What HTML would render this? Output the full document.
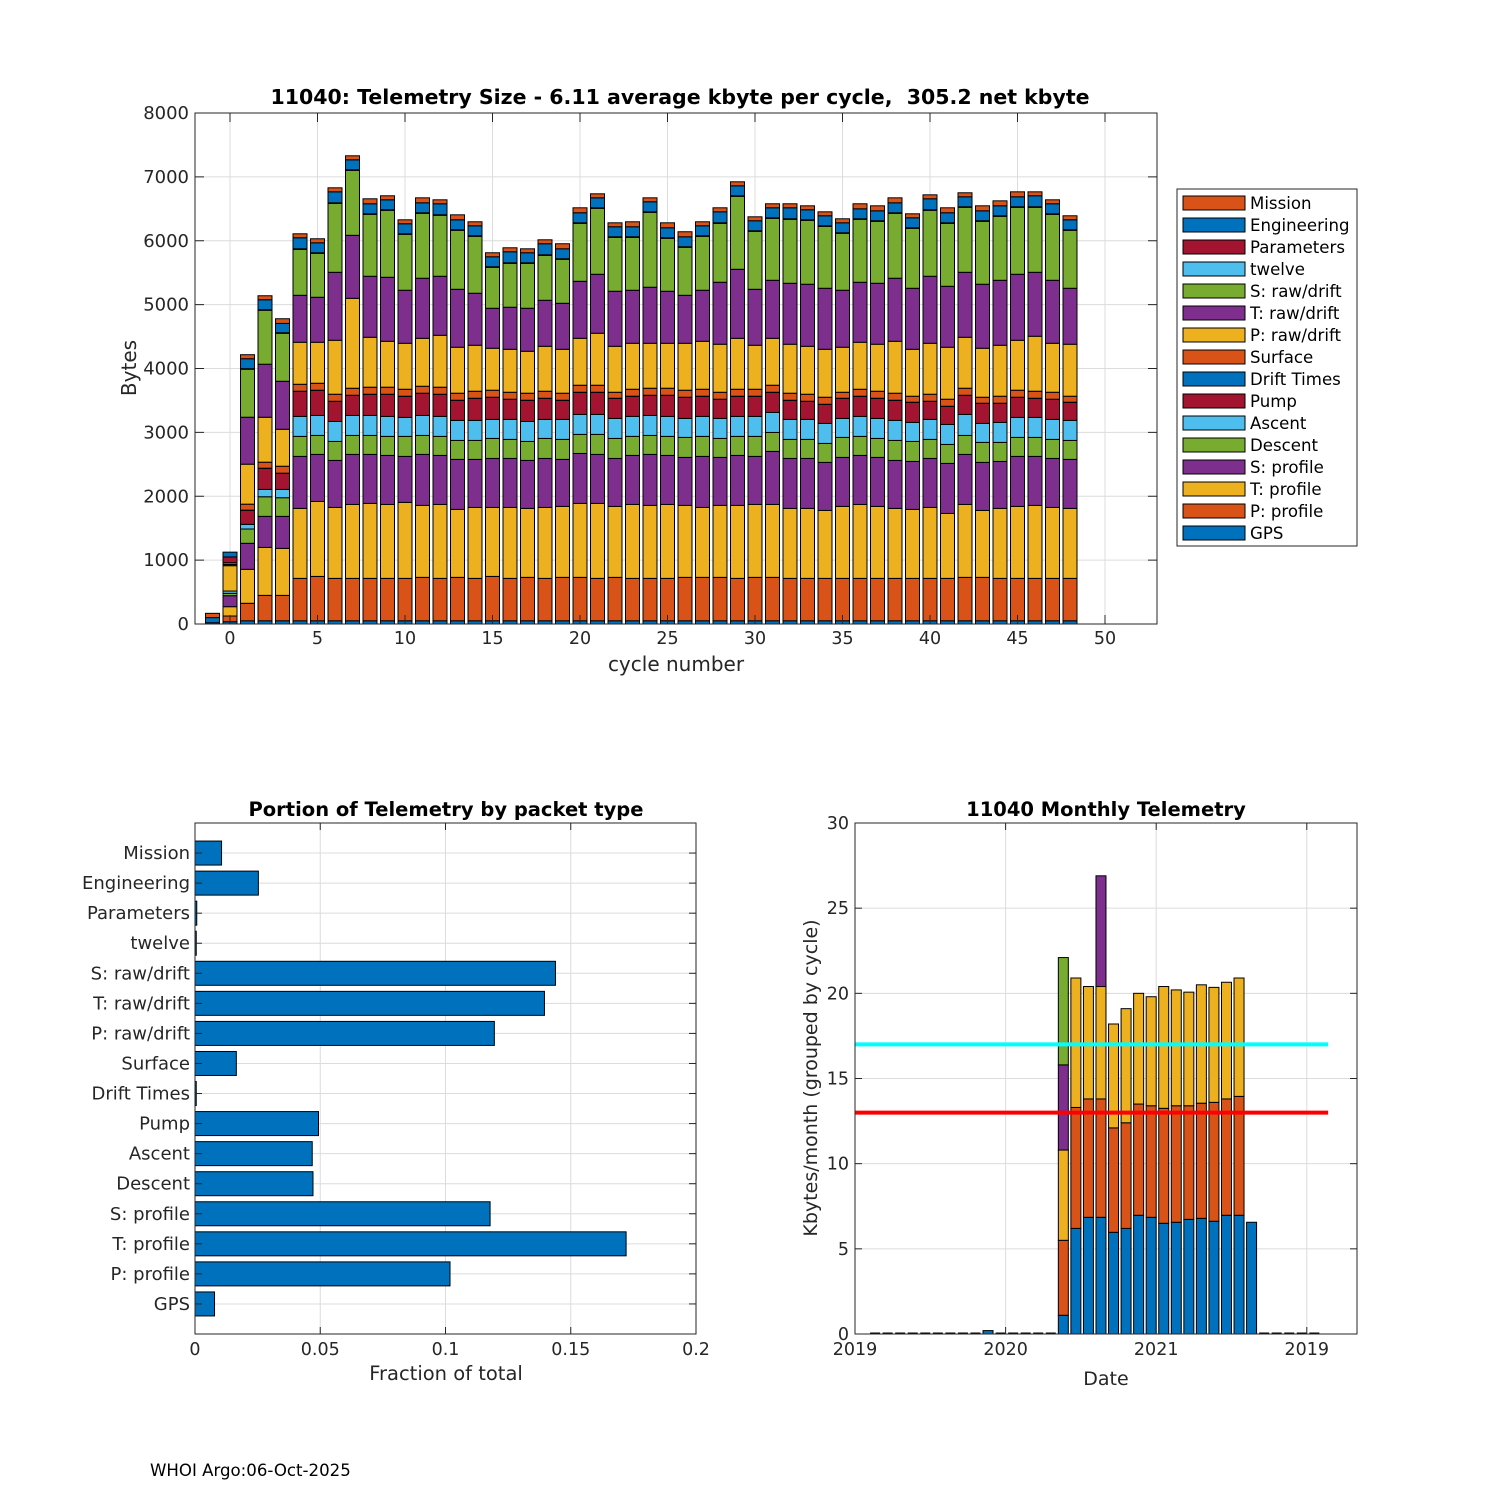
<!DOCTYPE html>
<html><head><meta charset="utf-8"><title>11040 Telemetry</title>
<style>
html,body{margin:0;padding:0;background:#fff;}
svg{display:block;font-family:"DejaVu Sans","Liberation Sans",sans-serif;}
</style></head>
<body>
<svg id="fig" width="1500" height="1500" viewBox="0 0 1500 1500" xmlns="http://www.w3.org/2000/svg">
<rect x="0" y="0" width="1500" height="1500" fill="#fff"/>
<text x="150" y="1476" font-size="16.6" fill="#000">WHOI Argo:06-Oct-2025</text>
</svg>
<script>
// ===== Top chart data =====
const cycles = [-1,0,1,2,3,4,5,6,7,8,9,10,11,12,13,14,15,16,17,18,19,20,21,22,23,24,25,26,27,28,29,30,31,32,33,34,35,36,37,38,39,40,41,42,43,44,45,46,47,48];
const layerNames = ["GPS","P: profile","T: profile","S: profile","Descent","Ascent","Pump","Drift Times","Surface","P: raw/drift","T: raw/drift","S: raw/drift","twelve","Parameters","Engineering","Mission"];
const layerColors = ["#0072BD","#D95319","#EDB120","#7E2F8E","#77AC30","#4DBEEE","#A2142F","#0072BD","#D95319","#EDB120","#7E2F8E","#77AC30","#4DBEEE","#A2142F","#0072BD","#D95319"];
const gpsVals = [20,35,50,50,50,50,50,50,50,50,50,50,50,50,50,50,50,50,50,50,50,50,50,50,50,50,50,50,50,50,50,50,50,50,50,50,50,50,50,50,50,50,50,50,50,50,50,50,50,50];
const pProfVals = [0,90,274,398,398,664,695,664,664,664,664,664,680,664,680,664,695,664,680,664,680,680,664,680,664,664,664,680,680,680,664,680,680,664,664,664,664,664,664,664,664,664,664,680,680,664,664,664,664,664];
const tProfVals = [0,146,532,751,736,1096,1174,1111,1158,1174,1158,1190,1127,1158,1064,1111,1080,1111,1080,1111,1111,1158,1174,1111,1158,1143,1158,1127,1095,1127,1143,1142,1142,1096,1096,1064,1127,1158,1127,1096,1080,1111,1017,1142,1048,1096,1127,1143,1111,1096];
const sProfVals = [0,172,407,486,501,814,736,736,783,767,767,720,798,767,783,752,767,767,751,767,736,782,767,751,767,798,767,751,799,751,782,752,830,782,782,752,767,767,767,751,751,767,783,783,752,735,783,767,767,767];
const descentVals = [0,37,224,307,292,313,297,297,297,297,298,313,297,298,297,297,313,298,297,313,313,298,313,313,298,297,298,313,313,297,298,313,297,298,298,297,313,298,297,313,313,298,297,297,313,298,297,297,298,297];
const ascentVals = [0,36,73,115,130,313,313,313,313,313,313,297,313,313,313,313,298,313,313,298,313,313,313,313,313,313,313,297,313,313,313,313,313,313,313,313,297,313,313,313,298,313,313,329,297,313,313,313,313,313];
const pumpVals = [0,0,219,329,251,391,392,313,313,329,344,329,345,344,313,344,344,313,329,328,297,344,344,313,313,313,328,329,313,298,313,313,313,297,281,297,313,313,313,313,313,281,282,297,313,297,313,297,313,282];
const driftVals = [0,0,3,3,3,3,3,3,3,3,3,3,3,3,3,3,3,3,3,3,3,3,3,3,3,3,3,3,3,3,3,3,3,3,3,3,3,3,3,3,3,3,3,3,3,3,3,3,3,3];
const surfaceVals = [0,0,94,94,109,109,109,110,110,110,110,109,109,110,110,110,110,109,110,110,110,110,110,94,109,110,110,110,109,109,109,109,110,110,110,110,94,109,110,110,94,110,110,110,94,110,110,110,109,94];
const pRawVals = [0,397,626,704,579,658,642,845,1408,782,719,720,751,813,720,720,657,673,657,704,688,735,814,720,720,704,704,735,751,752,798,689,735,767,751,751,705,736,736,813,735,798,814,798,767,798,782,861,767,814];
const tRawVals = [0,20,735,830,751,735,704,1064,986,955,1002,830,940,924,907,814,626,658,673,720,720,892,923,861,830,877,814,751,799,970,1080,876,908,954,971,955,892,939,954,987,955,1049,954,1017,1002,1017,1033,1001,986,876];
const sRawVals = [0,27,752,845,752,720,689,1080,1018,970,1049,876,1017,955,924,892,642,688,704,704,689,908,1033,845,829,1173,830,752,845,923,1143,908,970,1002,1001,970,892,986,971,1017,939,1033,986,1018,986,1002,1049,1018,1033,908];
const twelveVals = [0,0,3,3,3,3,3,3,3,3,3,3,3,3,3,3,3,3,3,3,3,3,3,3,3,3,3,3,3,3,3,3,3,3,3,3,3,3,3,3,3,3,3,3,3,3,3,3,3,3];
const paramVals = [0,90,5,5,5,5,5,5,5,5,5,5,5,5,5,5,5,5,5,5,5,5,5,5,5,5,5,5,5,5,5,5,5,5,5,5,5,5,5,5,5,5,5,5,5,5,5,5,5,5];
const engVals = [80,75,156,156,146,173,156,172,156,157,156,157,156,172,156,156,156,172,157,173,156,157,156,157,157,157,156,156,156,172,156,157,157,172,157,157,156,156,156,156,156,172,157,156,156,156,156,172,157,156];
const missionVals = [67,0,63,63,73,62,63,63,63,78,63,62,78,62,78,63,63,63,62,62,79,78,63,62,78,62,78,79,63,63,63,62,63,63,62,62,63,79,78,78,63,62,78,63,78,78,78,62,62,63];
const topXTicks = [0,5,10,15,20,25,30,35,40,45,50];
const topYTicks = [0,1000,2000,3000,4000,5000,6000,7000,8000];

// ===== Bottom-left data =====
const packetTypes = ["GPS","P: profile","T: profile","S: profile","Descent","Ascent","Pump","Drift Times","Surface","P: raw/drift","T: raw/drift","S: raw/drift","twelve","Parameters","Engineering","Mission"];
const packetFractions = [0.0078,0.1018,0.1721,0.1178,0.0471,0.0468,0.0493,0.0005,0.0165,0.1195,0.1395,0.1439,0.0005,0.0007,0.0253,0.0106];
const fracTicks = [0,0.05,0.1,0.15,0.2];
const fracTickLabels = ["0","0.05","0.1","0.15","0.2"];

// ===== Bottom-right data =====
const monthIdx = [1,2,3,4,5,6,7,8,9,10,11,12,13,14,15,16,17,18,19,20,21,22,23,24,25,26,27,28,29,30,31,32,33,34,35,36];
const mBlue   = [0,0,0,0,0,0,0,0,0,0.2,0,0,0,0,0,1.1,6.2,6.85,6.85,5.97,6.2,6.97,6.85,6.5,6.56,6.73,6.79,6.62,6.97,6.97,6.56,0,0,0,0,0];
const mOrange = [0,0,0,0,0,0,0,0,0,0,0,0,0,0,0,4.4,7.1,6.95,6.95,6.13,6.2,6.53,6.55,6.75,6.84,6.67,6.76,6.98,6.83,6.98,0,0,0,0,0,0];
const mYellow = [0,0,0,0,0,0,0,0,0,0,0,0,0,0,0,5.3,7.6,6.6,6.6,6.1,6.7,6.5,6.4,7.15,6.8,6.67,6.95,6.75,6.85,6.95,0,0,0,0,0,0];
const mPurple = [0,0,0,0,0,0,0,0,0,0,0,0,0,0,0,5.0,0,0,6.5,0,0,0,0,0,0,0,0,0,0,0,0,0,0,0,0,0];
const mGreen  = [0,0,0,0,0,0,0,0,0,0,0,0,0,0,0,6.3,0,0,0,0,0,0,0,0,0,0,0,0,0,0,0,0,0,0,0,0];
const cyanLevel = 17;
const redLevel = 13;
const dateTickMonths = [0,12,24,36];
const dateTickLabels = ["2019","2020","2021","2019"];
const monthlyYTicks = [0,5,10,15,20,25,30];

const NS = "http://www.w3.org/2000/svg";
const svg = document.getElementById("fig");
const TXT = "#262626", GRID = "#dcdcdc";
function el(tag, attrs, parent){
  const e = document.createElementNS(NS, tag);
  for (const k in attrs) e.setAttribute(k, attrs[k]);
  (parent||svg).appendChild(e);
  return e;
}
function txt(x,y,s,size,anchor,extra){
  const t = el("text", Object.assign({x:x,y:y,"font-size":size,"text-anchor":anchor||"middle",fill:TXT}, extra||{}));
  t.textContent = s;
  return t;
}

// ===== Top chart =====
(function(){
  const L=195,R=1157,T=113,B=624;
  const xS = c => 230 + (c)*17.5;
  const yS = v => B - v*(B-T)/8000;
  const g = el("g",{});
  
  
  topXTicks.forEach(t=>{
    const l = el("line",{x1:xS(t),x2:xS(t),y1:T,y2:B,stroke:GRID,"stroke-width":1},g);
    
    
  });
  topYTicks.forEach(t=>{
    const l = el("line",{x1:L,x2:R,y1:yS(t),y2:yS(t),stroke:GRID,"stroke-width":1},g);
    
    
  });
  const layers=[gpsVals,pProfVals,tProfVals,sProfVals,descentVals,ascentVals,pumpVals,driftVals,surfaceVals,pRawVals,tRawVals,sRawVals,twelveVals,paramVals,engVals,missionVals];
  cycles.forEach((c,i)=>{
    let base=0;
    layers.forEach((arr,j)=>{
      const v=arr[i];
      if(v<=0) return;
      const y0=yS(base), y1=yS(base+v);
      const r = el("rect",{x:xS(c)-7,y:y1,width:14,height:y0-y1,fill:layerColors[j],stroke:"#000","stroke-width":1},g);
      
      
      base+=v;
    });
  });
  const box = el("rect",{x:L,y:T,width:R-L,height:B-T,fill:"none",stroke:TXT,"stroke-width":1},g);
  
  
  topXTicks.forEach(t=>{
    el("line",{x1:xS(t),x2:xS(t),y1:B,y2:B-9,stroke:TXT},g);
    el("line",{x1:xS(t),x2:xS(t),y1:T,y2:T+9,stroke:TXT},g);
    const s = txt(xS(t),B+20,String(t),17.5);
    
    
  });
  topYTicks.forEach(t=>{
    el("line",{x1:L,x2:L+9,y1:yS(t),y2:yS(t),stroke:TXT},g);
    el("line",{x1:R,x2:R-9,y1:yS(t),y2:yS(t),stroke:TXT},g);
    const s = txt(L-6,yS(t)+6,String(t),18,"end");
    
    
  });
  const ti = txt(680,104,"11040: Telemetry Size - 6.11 average kbyte per cycle,\u00a0 305.2 net kbyte",20.5,"middle",{"font-weight":"bold",fill:"#000"});
  
  
  const xl = txt(676,671,"cycle number",20);
  
  
  const yl = txt(136,368,"Bytes",20,"middle",{transform:"rotate(-90 136 368)"});
  
  
  // legend
  const lg = el("g",{});
  
  
  el("rect",{x:1177,y:189,width:180,height:357,fill:"#fff",stroke:TXT,"stroke-width":1},lg);
  for(let k=0;k<16;k++){
    const j=15-k;
    const y=196+k*22;
    const e = el("g",{},lg);
    
    
    el("rect",{x:1183,y:y,width:62,height:14,fill:layerColors[j],stroke:"#000","stroke-width":1},e);
    const s=el("text",{x:1250,y:y+13,"font-size":16.6,fill:"#000"},e);
    s.textContent=layerNames[j];
  }
})();

// ===== Bottom-left chart =====
(function(){
  const L=195,R=696,T=823,B=1334;
  const xS = v => L + v*(R-L)/0.2;
  const yS = i => B - (i+1)*(B-T)/17;
  const g = el("g",{});
  
  
  fracTicks.forEach(t=>{ el("line",{x1:xS(t),x2:xS(t),y1:T,y2:B,stroke:GRID},g); });
  packetTypes.forEach((p,i)=>{ el("line",{x1:L,x2:R,y1:yS(i),y2:yS(i),stroke:GRID},g); });
  packetTypes.forEach((p,i)=>{
    const h=24;
    const r = el("rect",{x:L,y:yS(i)-h/2,width:Math.max(0.5,xS(packetFractions[i])-L),height:h,fill:"#0072BD",stroke:"#000","stroke-width":1},g);
    
    
    el("line",{x1:L,x2:L+7,y1:yS(i),y2:yS(i),stroke:TXT},g);
    el("line",{x1:R,x2:R-7,y1:yS(i),y2:yS(i),stroke:TXT},g);
    const s = txt(L-5,yS(i)+6,p,18,"end");
    
    
  });
  const box = el("rect",{x:L,y:T,width:R-L,height:B-T,fill:"none",stroke:TXT},g);
  
  
  fracTicks.forEach((t,i)=>{
    el("line",{x1:xS(t),x2:xS(t),y1:B,y2:B-7,stroke:TXT},g);
    el("line",{x1:xS(t),x2:xS(t),y1:T,y2:T+7,stroke:TXT},g);
    const s = txt(xS(t),B+21,fracTickLabels[i],17.5);
    
    
  });
  const ti = txt(446,816,"Portion of Telemetry by packet type",19.5,"middle",{"font-weight":"bold",fill:"#000"});
  
  
  const xl = txt(446,1380,"Fraction of total",19.5);
  
  
})();

// ===== Bottom-right chart =====
(function(){
  const L=855,R=1357,T=823,B=1334;
  const xS = m => L + m*12.55;
  const yS = v => B - v*(B-T)/30;
  const g = el("g",{});
  
  
  dateTickMonths.forEach(m=>{ el("line",{x1:xS(m),x2:xS(m),y1:T,y2:B,stroke:GRID},g); });
  monthlyYTicks.forEach(t=>{ el("line",{x1:L,x2:R,y1:yS(t),y2:yS(t),stroke:GRID},g); });
  const series=[mBlue,mOrange,mYellow,mPurple,mGreen];
  const cols=["#0072BD","#D95319","#EDB120","#7E2F8E","#77AC30"];
  monthIdx.forEach((m,i)=>{
    let base=0;
    const cx=xS(m+0.6);
    let total=0;
    series.forEach(arr=>{ total+=arr[i]; });
    if(total<=0){
      const z = el("line",{x1:cx-5,x2:cx+5,y1:B-0.5,y2:B-0.5,stroke:"#000","stroke-width":2},g);
      
      
      return;
    }
    series.forEach((arr,j)=>{
      const v=arr[i];
      if(v<=0) return;
      const y0=yS(base), y1=yS(base+v);
      const p = el("rect",{x:cx-5,y:y1,width:10,height:y0-y1,fill:cols[j],stroke:"#000","stroke-width":1},g);
      
      
      base+=v;
    });
  });
  const cl = el("line",{x1:L,x2:xS(37.7),y1:yS(cyanLevel),y2:yS(cyanLevel),stroke:"#00FFFF","stroke-width":4},g);
  
  
  const rl = el("line",{x1:L,x2:xS(37.7),y1:yS(redLevel),y2:yS(redLevel),stroke:"#FF0000","stroke-width":4},g);
  
  
  const box = el("rect",{x:L,y:T,width:R-L,height:B-T,fill:"none",stroke:TXT},g);
  
  
  dateTickMonths.forEach((m,i)=>{
    el("line",{x1:xS(m),x2:xS(m),y1:B,y2:B-7,stroke:TXT},g);
    el("line",{x1:xS(m),x2:xS(m),y1:T,y2:T+7,stroke:TXT},g);
    const s = txt(xS(m),B+21,dateTickLabels[i],17.5);
    
    
  });
  monthlyYTicks.forEach(t=>{
    el("line",{x1:L,x2:L+7,y1:yS(t),y2:yS(t),stroke:TXT},g);
    el("line",{x1:R,x2:R-7,y1:yS(t),y2:yS(t),stroke:TXT},g);
    const s = txt(L-6,yS(t)+6,String(t),17.5,"end");
    
    
  });
  const ti = txt(1106,816,"11040 Monthly Telemetry",19.5,"middle",{"font-weight":"bold",fill:"#000"});
  
  
  const xl = txt(1106,1385,"Date",19);
  
  
  const yl = txt(817,1078,"Kbytes/month (grouped by cycle)",19,"middle",{transform:"rotate(-90 817 1078)"});
  
  
})();
</script>
</body></html>
